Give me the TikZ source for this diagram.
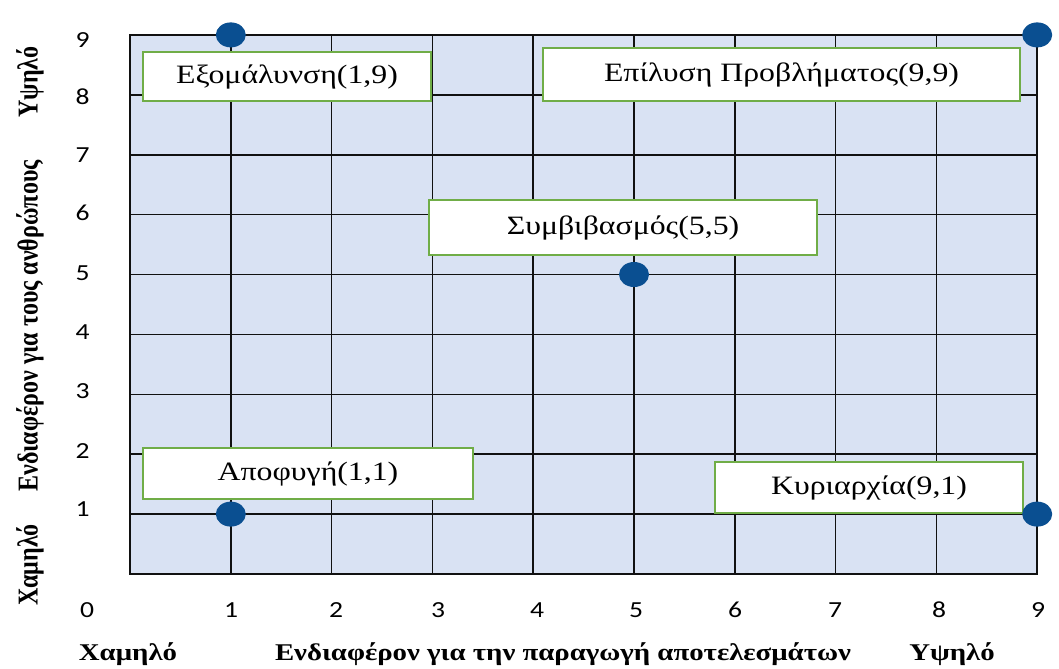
\documentclass[tikz,border=0pt]{standalone}
\usepackage{fontspec}
\setmainfont{Liberation Serif}
\newfontfamily\ticksans{Carlito}
\definecolor{gridbg}{HTML}{D9E2F3}
\definecolor{boxgreen}{HTML}{70AD47}
\definecolor{dotblue}{HTML}{0A4F91}
\definecolor{gridink}{HTML}{111111}
\begin{document}
\begin{tikzpicture}[x=0.833333pt,y=-1pt,xscale=1.2,
  every node/.append style={transform shape},
  gridline/.style={draw=gridink, line width=1.6pt},
  lbl/.style={draw=boxgreen, line width=1.2pt, fill=white, inner sep=0pt, font=\fontsize{26.5}{30}\selectfont},
  dot/.style={circle, fill=dotblue, minimum size=25pt, inner sep=0pt},
  tick/.style={font=\ticksans\fontsize{23}{26}\selectfont, inner sep=0pt},
  axtitle/.style={font=\bfseries\fontsize{24}{28}\selectfont, inner sep=0pt}]
\useasboundingbox (0,0) rectangle (1059,668);
\fill[gridbg] (130,34.9) rectangle (1037.2,574);
\foreach \i in {1,...,8} \draw[gridline] ({130+100.8*\i},34.9) -- ({130+100.8*\i},574);
\foreach \j in {1,...,8} \draw[gridline] (130,{574-59.9*\j}) -- (1037.2,{574-59.9*\j});
\draw[gridline] (130,34.9) rectangle (1037.2,574);
% labelled boxes
\node[lbl, minimum width=240pt, minimum height=49pt] (b1) at (287,76.5) {Εξομάλυνση(1,9)};
\node[lbl, minimum width=397.5pt, minimum height=53pt] (b2) at (781.5,74.5) {Επίλυση Προβλήματος(9,9)};
\node[lbl, minimum width=323.3pt, minimum height=55pt] (b3) at (623,227.5) {Συμβιβασμός(5,5)};
\node[lbl, minimum width=275pt, minimum height=51pt] (b4) at (308,473.5) {Αποφυγή(1,1)};
\node[lbl, minimum width=256.7pt, minimum height=51pt] (b5) at (869,487.5) {Κυριαρχία(9,1)};
% dots
\node[dot] (d1) at (230.8,34.9) {};
\node[dot] (d2) at (1037.2,34.9) {};
\node[dot] (d3) at (634,274.5) {};
\node[dot] (d4) at (230.8,514.1) {};
\node[dot] (d5) at (1037.2,514.1) {};
% tick labels x
\node[tick] (x0) at (87,610) {0};
\node[tick] (x1) at (231,610) {1};
\node[tick] (x2) at (336,610) {2};
\node[tick] (x3) at (438,610) {3};
\node[tick] (x4) at (537,610) {4};
\node[tick] (x5) at (636,610) {5};
\node[tick] (x6) at (735,610) {6};
\node[tick] (x7) at (835,610) {7};
\node[tick] (x8) at (939,610) {8};
\node[tick] (x9) at (1038,610) {9};
% tick labels y
\node[tick] (y9) at (82.5,40) {9};
\node[tick] (y8) at (82.5,97) {8};
\node[tick] (y7) at (82.5,155) {7};
\node[tick] (y6) at (82.5,213) {6};
\node[tick] (y5) at (82.5,273) {5};
\node[tick] (y4) at (82.5,332) {4};
\node[tick] (y3) at (82.5,391) {3};
\node[tick] (y2) at (82.5,451) {2};
\node[tick] (y1) at (82.5,509) {1};
% axis titles
\node[axtitle] (tlow) at (128,654) {Χαμηλό};
\node[axtitle] (tx) at (563,654) {Ενδιαφέρον για την παραγωγή αποτελεσμάτων};
\node[axtitle] (thigh) at (952,654) {Υψηλό};
\node[axtitle, rotate=90] (vhigh) at (30,82) {Υψηλό};
\node[axtitle, rotate=90] (vy) at (30,326) {Ενδιαφέρον για τους ανθρώπους};
\node[axtitle, rotate=90] (vlow) at (30,565) {Χαμηλό};
\end{tikzpicture}
\end{document}
